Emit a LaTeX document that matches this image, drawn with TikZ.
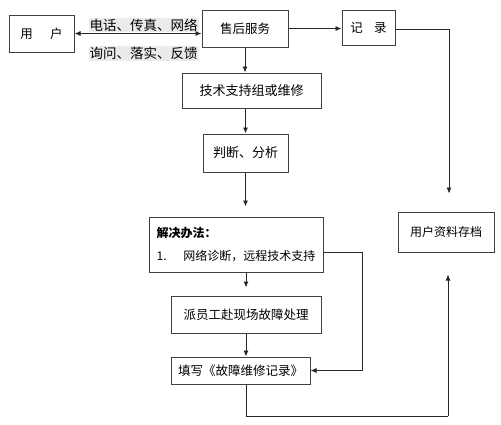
\documentclass[tikz,border=0pt]{standalone}
\usepackage{fontspec}
\setmainfont{Noto Sans CJK SC}
\usetikzlibrary{arrows.meta}
\begin{document}
\begin{tikzpicture}[x=1pt,y=-1pt,
  box/.style={draw=black!75, line width=1pt, fill=white, inner sep=2pt, font=\fontsize{12.5}{15}\selectfont},
  lab/.style={fill=gray!16, inner sep=1pt, font=\fontsize{13.5}{16}\selectfont},
  conn/.style={draw=black!85, line width=0.9pt},
  arr/.style={conn, -{Latex[length=6pt,width=5pt]}},
  darr/.style={conn, {Latex[length=6pt,width=5pt]}-{Latex[length=6pt,width=5pt]}}]
\useasboundingbox (0,0) rectangle (501,424);
\node[box, minimum width=65, minimum height=37] (user) at (41.5,33.5) {用\hspace{1.4em}户};
\node[box, minimum width=86, minimum height=37] (service) at (245,28.5) {售后服务};
\node[box, minimum width=53, minimum height=35] (record) at (368.5,27.5) {记\hspace{0.9em}录};
\node[box, minimum width=139, minimum height=35, font=\fontsize{13}{16}\selectfont] (tech) at (251.5,90.5) {技术支持组或维修};
\node[box, minimum width=85, minimum height=38, font=\fontsize{13}{16}\selectfont] (judge) at (245.5,153) {判断、分析};
\node[box, minimum width=174, minimum height=55, align=left, font=\fontsize{12}{23}\selectfont] (solve) at (236,244.5)
  {\textbf{解决办法：}\\1.\hspace{1.4em}网络诊断，远程技术支持};
\node[box, minimum width=150, minimum height=37] (dispatch) at (246,314.5) {派员工赴现场故障处理};
\node[box, minimum width=139, minimum height=27, font=\fontsize{12.5}{15}\selectfont] (fill) at (240.5,370.5) {填写《故障维修记录》};
\node[box, minimum width=96, minimum height=40, font=\fontsize{12}{15}\selectfont] (archive) at (446,232) {用户资料存档};
\node[lab] (l1) at (143.5,25) {电话、传真、网络};
\node[lab] (l2) at (143.5,53.5) {询问、落实、反馈};
\coordinate (c1) at (246,416);
\coordinate (c2) at (448,416);
\coordinate (c3) at (449,29);
\draw[darr] (user.east) -- (user.east -| service.west);
\draw[arr] (service.east) -- (service.east -| record.west);
\draw[conn] (record.east |- c3) -- (c3);
\draw[arr, shorten >=18pt] (c3) -- (archive.north -| c3);
\draw[arr] (service.south) -- (service.south |- tech.north);
\draw[arr] (judge.north |- tech.south) -- (judge.north);
\draw[arr, shorten >=10pt] (judge.south) -- (judge.south |- solve.north);
\draw[arr, shorten >=8pt] (dispatch.north |- solve.south) -- (dispatch.north);
\draw[arr] (dispatch.south) -- (dispatch.south |- fill.north);
\draw[arr] ([yshift=-7.5pt]solve.east) -- ++(39,0) |- (fill.east);
\draw[conn] (dispatch.south |- fill.south) -- (c1) -- (c2);
\draw[arr, shorten >=22pt] (c2) -- (archive.south -| c2);
\end{tikzpicture}
\end{document}
